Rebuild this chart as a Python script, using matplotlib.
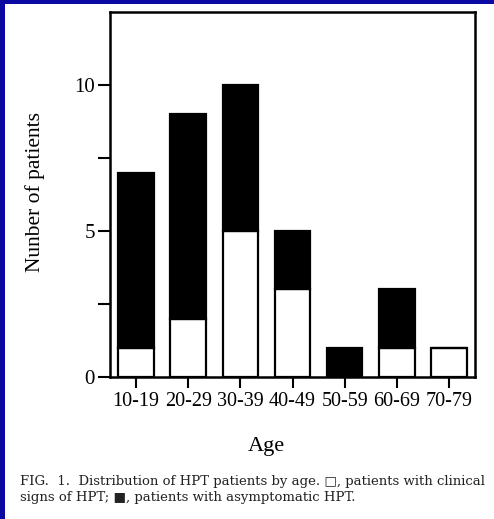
import numpy as np
import matplotlib.pyplot as plt
from matplotlib.patches import Rectangle

# data
ages = ["10-19", "20-29", "30-39", "40-49", "50-59", "60-69", "70-79"]
clinical = [1, 2, 5, 3, 0, 1, 1]       # white part
asymptomatic = [6, 7, 5, 2, 1, 2, 0]   # black part

plt.rcParams['font.family'] = ['Liberation Serif', 'DejaVu Sans']

fig = plt.figure(figsize=(4.94, 5.19), dpi=100, facecolor='#0a0aa2')
# white page inside the blue frame
fig.patches.append(Rectangle((5 / 494, 0), 1, 1 - 4 / 519, transform=fig.transFigure,
                             facecolor='white', edgecolor='none', zorder=-10))

ax = fig.add_axes([110 / 494, 1 - 377 / 519, 365 / 494, 365 / 519])
ax.set_facecolor('white')
x = np.arange(len(ages))
w = 0.68
ax.bar(x, clinical, w, color='white', edgecolor='black', linewidth=1.6)
ax.bar(x, asymptomatic, w, bottom=clinical, color='black', edgecolor='black', linewidth=1.6)

ax.set_xlim(-0.5, 6.5)
ax.set_ylim(0, 12.5)
ax.set_xticks(x)
ax.set_xticklabels(ages, fontsize=14.5)
ax.set_yticks([0, 5, 10])
ax.set_yticks([2.5, 7.5], minor=True)
ax.tick_params(axis='y', which='both', direction='out', length=9, width=1.5, labelsize=15, pad=2)
ax.tick_params(axis='x', direction='out', length=8, width=1.5, pad=3)
for s in ax.spines.values():
    s.set_linewidth(1.8)

fig.text(35 / 494, 1 - 192 / 519, "Nunber of patients", rotation=90, fontsize=15.5,
         ha='center', va='center')
fig.text(266 / 494, 1 - 446 / 519, "Age", fontsize=16, ha='center', va='center')

cap = ['DejaVu Serif', 'DejaVu Sans']
fig.text(20 / 494, 1 - 482 / 519,
         "FIG.  1.  Distribution of HPT patients by age. \u25a1, patients with clinical",
         fontsize=9.5, ha='left', va='center', color='#222222', family=cap)
fig.text(20 / 494, 1 - 498 / 519,
         "signs of HPT; \u25a0, patients with asymptomatic HPT.",
         fontsize=9.5, ha='left', va='center', color='#222222', family=cap)

fig.savefig("out.png", dpi=100, facecolor=fig.get_facecolor())
